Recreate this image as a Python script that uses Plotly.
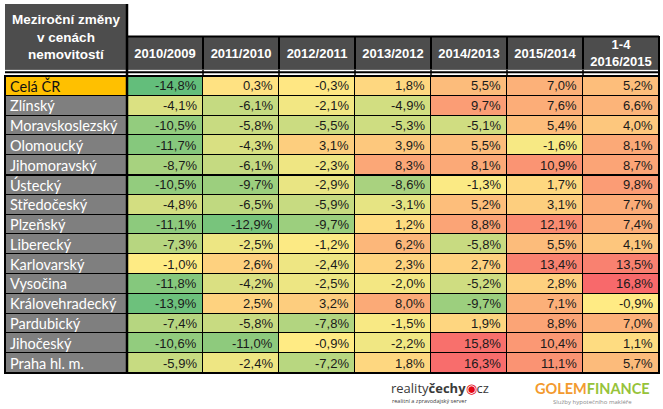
import numpy as np
import plotly.graph_objects as go

# ---------------- data ----------------
regions = ["Celá ČR", "Zlínský", "Moravskoslezský", "Olomoucký", "Jihomoravský",
           "Ústecký", "Středočeský", "Plzeňský", "Liberecký", "Karlovarský",
           "Vysočina", "Královehradecký", "Pardubický", "Jihočeský", "Praha hl. m."]

periods = ["2010/2009", "2011/2010", "2012/2011", "2013/2012",
           "2014/2013", "2015/2014", "1-4 2016/2015"]

v_2010_2009 = [-14.8, -4.1, -10.5, -11.7, -8.7, -10.5, -4.8, -11.1, -7.3, -1.0, -11.8, -13.9, -7.4, -10.6, -5.9]
v_2011_2010 = [0.3, -6.1, -5.8, -4.3, -6.1, -9.7, -6.5, -12.9, -2.5, 2.6, -4.2, 2.5, -5.8, -11.0, -2.4]
v_2012_2011 = [-0.3, -2.1, -5.5, 3.1, -2.3, -2.9, -5.9, -9.7, -1.2, -2.4, -2.5, 3.2, -7.8, -0.9, -7.2]
v_2013_2012 = [1.8, -4.9, -5.3, 3.9, 8.3, -8.6, -3.1, 1.2, 6.2, 2.3, -2.0, 8.0, -1.5, -2.2, 1.8]
v_2014_2013 = [5.5, 9.7, -5.1, 5.5, 8.1, -1.3, 5.2, 8.8, -5.8, 2.7, -5.2, -9.7, 1.9, 15.8, 16.3]
v_2015_2014 = [7.0, 7.6, 5.4, -1.6, 10.9, 1.7, 3.1, 12.1, 5.5, 13.4, 2.8, 7.1, 8.8, 10.4, 11.1]
v_2016_2015 = [5.2, 6.6, 4.0, 8.1, 8.7, 9.8, 7.7, 7.4, 4.1, 13.5, 16.8, -0.9, 7.0, 1.1, 5.7]

title_text = "Meziroční změny<br>v cenách<br>nemovitostí"

columns = [v_2010_2009, v_2011_2010, v_2012_2011, v_2013_2012,
           v_2014_2013, v_2015_2014, v_2016_2015]

# matrix rows=regions, cols=periods
Z = np.array(columns).T

# ---------------- geometry helpers ----------------
W, H = 663, 409
def px(x):
    return x / W
def py(y):
    return 1 - y / H

# Excel-like 3 colour scale (min green, median yellow, max red)
zmin, zmax = float(Z.min()), float(Z.max())
zmed = float(np.median(Z))
mid = (zmed - zmin) / (zmax - zmin)
cscale = [[0, "#63BE7B"], [mid, "#FFEB84"], [1, "#F8696B"]]

HEAD_GRAY = "#4D4D4D"
LABEL_GRAY = "#7F7F7F"
ORANGE = "#FFC000"

fig = go.Figure()

# value cells
fig.add_trace(go.Heatmap(
    z=Z, x=periods, y=regions, xaxis="x2", yaxis="y",
    colorscale=cscale, zmin=zmin, zmax=zmax, showscale=False,
    xgap=1, ygap=1, hoverinfo="skip"))

# label column cells
lab_z = [[1 if r == "Celá ČR" else 0] for r in regions]
fig.add_trace(go.Heatmap(
    z=lab_z, x=["lbl"], y=regions, xaxis="x", yaxis="y",
    colorscale=[[0, LABEL_GRAY], [1, ORANGE]], zmin=0, zmax=1,
    showscale=False, ygap=1, hoverinfo="skip"))

# column header cells
fig.add_trace(go.Heatmap(
    z=[[0] * len(periods)], x=periods, y=["h"], xaxis="x2", yaxis="y2",
    colorscale=[[0, HEAD_GRAY], [1, HEAD_GRAY]], showscale=False,
    text=[["<b>" + p.replace(" ", "<br>") + "</b>" for p in periods]],
    texttemplate="%{text}",
    textfont=dict(family="Liberation Sans, Arial", size=13, color="white"),
    xgap=2, hoverinfo="skip"))

# top-left header cell
fig.add_trace(go.Heatmap(
    z=[[0]], x=["lbl"], y=["h"], xaxis="x", yaxis="y3",
    colorscale=[[0, HEAD_GRAY], [1, HEAD_GRAY]], showscale=False,
    text=[["<b>" + title_text + "</b>"]], texttemplate="%{text}",
    textfont=dict(family="Liberation Sans, Arial", size=13.5, color="white"),
    hoverinfo="skip"))

annotations = []
# region labels
for r in regions:
    annotations.append(dict(
        x=-0.5, y=r, xref="x", yref="y", xanchor="left", yanchor="middle",
        xshift=3, text=r, showarrow=False,
        font=dict(family="Lato", size=14.5,
                  color="#111111" if r == "Celá ČR" else "white")))
# values
for j, p in enumerate(periods):
    for i, r in enumerate(regions):
        v = Z[i, j]
        annotations.append(dict(
            x=p, y=r, xref="x2", yref="y", xanchor="right", yanchor="middle",
            xshift=34, showarrow=False,
            text=f"{v:.1f}".replace(".", ",") + "%",
            font=dict(family="Liberation Sans, Arial", size=13, color="#1a1a1a")))

# footer logos (text)
annotations += [
    dict(x=px(389), y=py(387.5), xref="paper", yref="paper", xanchor="left", yanchor="middle",
         showarrow=False,
         text='reality<b>čechy</b><span style="color:#E30613">◉</span>cz',
         font=dict(family="Open Sans", size=13, color="#3a3a3a")),
    dict(x=px(390), y=py(400.5), xref="paper", yref="paper", xanchor="left", yanchor="middle",
         showarrow=False, text="realitní a zpravodajský server",
         font=dict(family="Open Sans", size=5.5, color="#3a3a3a")),
    dict(x=px(533), y=py(388), xref="paper", yref="paper", xanchor="left", yanchor="middle",
         showarrow=False,
         text='<b><span style="color:#F39A2E">GOLEM</span><span style="color:#97C33A">FINANCE</span></b>',
         font=dict(family="Lato", size=14.5)),
    dict(x=px(592), y=py(402), xref="paper", yref="paper", xanchor="center", yanchor="middle",
         showarrow=False, text="Služby hypotečního makléře",
         font=dict(family="Open Sans", size=6, color="#8a8a8a")),
]

# borders
BL = "black"
shapes = [
    dict(type="rect", xref="paper", yref="paper", x0=px(5), x1=px(659), y0=py(373), y1=py(76),
         line=dict(color=BL, width=2)),
    dict(type="line", xref="paper", yref="paper", x0=px(127), x1=px(127), y0=py(373), y1=py(4),
         line=dict(color=BL, width=2.5)),
    dict(type="line", xref="paper", yref="y", x0=px(5), x1=px(659), y0=4.5, y1=4.5,
         line=dict(color=BL, width=2)),
    dict(type="line", xref="paper", yref="paper", x0=px(127), x1=px(659), y0=py(36.5), y1=py(36.5),
         line=dict(color=BL, width=2)),
    dict(type="line", xref="paper", yref="paper", x0=px(659), x1=px(659), y0=py(36), y1=py(76),
         line=dict(color=BL, width=2)),
    dict(type="line", xref="paper", yref="paper", x0=px(5), x1=px(659), y0=py(72.3), y1=py(72.3),
         line=dict(color=BL, width=2)),
]
for k in range(1, len(periods)):
    shapes.append(dict(type="line", xref="x2", yref="paper", x0=k - 0.5, x1=k - 0.5,
                       y0=py(76), y1=py(69.5), line=dict(color=BL, width=1.5)))

ax = dict(showticklabels=False, showgrid=False, zeroline=False, showline=False,
          ticks="", fixedrange=True)

fig.update_layout(
    width=W, height=H, autosize=False,
    margin=dict(l=0, r=0, t=0, b=0, pad=0),
    paper_bgcolor="white", plot_bgcolor="black",
    showlegend=False,
    xaxis=dict(domain=[px(5), px(127)], anchor="y", type="category", **ax),
    xaxis2=dict(domain=[px(127), px(659)], anchor="y", type="category",
                categoryorder="array", categoryarray=periods, **ax),
    yaxis=dict(domain=[py(373), py(76)], anchor="x", type="category",
               categoryorder="array", categoryarray=regions,
               range=[len(regions) - 0.5, -0.5], **ax),
    yaxis2=dict(domain=[py(69.5), py(37)], anchor="x2", type="category", **ax),
    yaxis3=dict(domain=[py(69.5), py(4)], anchor="x", type="category", **ax),
    annotations=annotations,
    shapes=shapes,
)

fig.write_html(
    "out.html",
    config={"displayModeBar": False},
    post_script="document.body.style.margin='0';document.body.style.overflow='hidden';",
)
